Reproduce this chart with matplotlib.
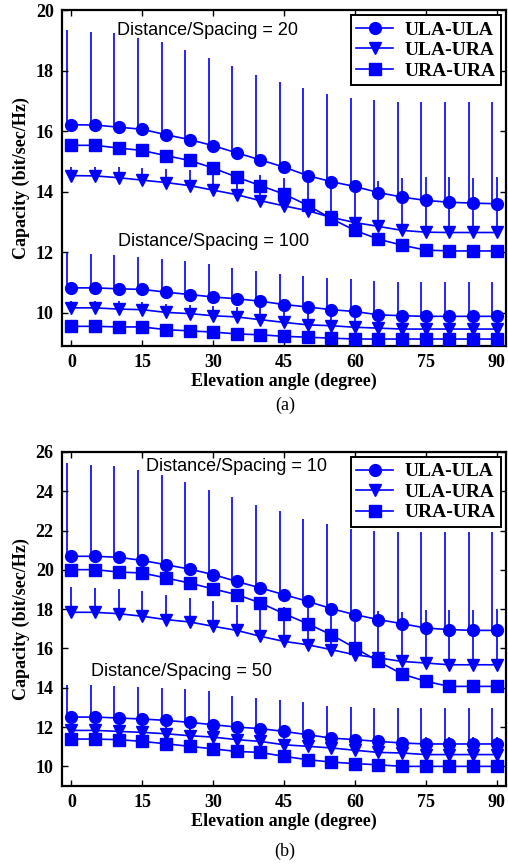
import matplotlib
matplotlib.use("Agg")
import matplotlib.pyplot as plt
from matplotlib.lines import Line2D

# elevation angles (degree)
angles = [0, 5, 10, 15, 20, 25, 30, 35, 40, 45, 50, 55, 60, 65, 70, 75, 80, 85, 90]

# (a) distance/spacing = 20
ula_ula_20 = [16.21, 16.20, 16.13, 16.06, 15.88, 15.72, 15.52, 15.28, 15.05, 14.81,
              14.53, 14.33, 14.17, 13.97, 13.82, 13.71, 13.65, 13.62, 13.60]
ula_ula_20_top = [19.35, 19.29, 19.24, 19.07, 18.93, 18.68, 18.43, 18.15, 17.86, 17.63,
                  17.43, 17.24, 17.11, 17.02, 16.97, 16.97, 16.97, 16.97, 16.97]
ula_ura_20 = [14.53, 14.52, 14.46, 14.38, 14.30, 14.20, 14.05, 13.90, 13.70, 13.53,
              13.37, 13.15, 12.98, 12.85, 12.72, 12.66, 12.65, 12.65, 12.65]
ula_ura_20_top = [14.82, 14.82, 14.80, 14.78, 14.75, 14.72, 14.70, 14.65, 14.55, 14.45,
                  14.35, 14.30, 14.30, 14.36, 14.44, 14.50, 14.50, 14.45, 14.50]
ura_ura_20 = [15.53, 15.53, 15.44, 15.36, 15.19, 15.03, 14.78, 14.48, 14.20, 13.92,
              13.55, 13.11, 12.72, 12.43, 12.23, 12.07, 12.04, 12.04, 12.04]

# (a) distance/spacing = 100
ula_ula_100 = [10.82, 10.82, 10.79, 10.77, 10.68, 10.60, 10.52, 10.46, 10.38, 10.27,
               10.19, 10.10, 10.04, 9.93, 9.90, 9.88, 9.88, 9.88, 9.88]
ula_ula_100_top = [11.98, 11.93, 11.90, 11.85, 11.79, 11.71, 11.60, 11.49, 11.38, 11.27,
                   11.21, 11.14, 11.10, 11.05, 11.01, 11.01, 11.00, 11.00, 11.00]
ula_ura_100 = [10.16, 10.16, 10.12, 10.10, 10.01, 9.97, 9.90, 9.86, 9.77, 9.68,
               9.60, 9.57, 9.52, 9.49, 9.46, 9.46, 9.46, 9.46, 9.46]
ula_ura_100_top = [10.40, 10.40, 10.38, 10.36, 10.30, 10.27, 10.22, 10.20, 10.15, 10.10,
                   10.05, 10.02, 10.00, 9.98, 9.96, 9.96, 9.96, 9.96, 9.96]
ura_ura_100 = [9.55, 9.55, 9.53, 9.53, 9.44, 9.40, 9.36, 9.30, 9.27, 9.22,
               9.19, 9.16, 9.13, 9.13, 9.13, 9.13, 9.13, 9.13, 9.13]

# (b) distance/spacing = 10
ula_ula_10 = [20.69, 20.69, 20.64, 20.48, 20.26, 20.04, 19.76, 19.41, 19.08, 18.74,
              18.40, 18.03, 17.72, 17.47, 17.26, 17.04, 16.96, 16.92, 16.92]
ula_ula_10_top = [25.44, 25.35, 25.27, 25.06, 24.84, 24.45, 24.08, 23.69, 23.32, 22.98,
                  22.60, 22.35, 22.08, 21.99, 21.93, 21.93, 21.93, 21.93, 21.93]
ula_ura_10 = [17.84, 17.84, 17.77, 17.64, 17.47, 17.35, 17.13, 16.92, 16.62, 16.36,
              16.19, 15.94, 15.68, 15.52, 15.34, 15.26, 15.17, 15.17, 15.17]
ula_ura_10_top = [19.13, 19.08, 19.03, 18.91, 18.74, 18.57, 18.40, 18.23, 18.15, 18.10,
                  18.05, 18.00, 17.95, 17.90, 17.86, 17.97, 17.97, 17.97, 17.99]
ura_ura_10 = [20.01, 20.01, 19.89, 19.84, 19.59, 19.33, 19.03, 18.74, 18.32, 17.77,
              17.26, 16.70, 16.03, 15.34, 14.70, 14.33, 14.07, 14.07, 14.07]

# (b) distance/spacing = 50
ula_ula_50 = [12.51, 12.51, 12.46, 12.41, 12.34, 12.24, 12.12, 12.00, 11.92, 11.78,
              11.61, 11.44, 11.36, 11.27, 11.19, 11.14, 11.14, 11.14, 11.14]
ula_ula_50_top = [14.16, 14.16, 14.11, 14.04, 13.99, 13.94, 13.82, 13.60, 13.48, 13.36,
                  13.26, 13.09, 13.02, 12.97, 12.97, 12.97, 12.97, 12.97, 12.97]
ula_ura_50 = [11.83, 11.83, 11.78, 11.73, 11.66, 11.56, 11.49, 11.36, 11.27, 11.10,
              11.02, 10.94, 10.82, 10.71, 10.68, 10.60, 10.60, 10.60, 10.60]
ula_ura_50_top = [12.25, 12.25, 12.22, 12.20, 12.15, 12.10, 12.05, 11.95, 11.90, 11.80,
                  11.75, 11.70, 11.62, 11.55, 11.50, 11.48, 11.48, 11.48, 11.48]
ura_ura_50 = [11.39, 11.39, 11.36, 11.27, 11.15, 11.02, 10.89, 10.76, 10.71, 10.51,
              10.34, 10.22, 10.14, 10.08, 10.00, 10.00, 10.00, 10.00, 10.00]

BLUE = "#0000ff"
SERIF = "Liberation Serif"
SANS = "Liberation Sans"
MS = 8.5
LW = 1.2
OFFSET = 0.9  # ULA-ULA spread bars sit a little left of the markers


def spread(ax, x, mean, top, shift=0.0):
    xs = [a - shift for a in x]
    err = [[0] * len(mean), [t - m for t, m in zip(top, mean)]]
    ax.errorbar(xs, mean, yerr=err, fmt="none", ecolor=BLUE, elinewidth=LW,
                capsize=0, zorder=1)


def group(ax, ula_ula, ula_ula_top, ula_ura, ula_ura_top, ura_ura):
    spread(ax, angles, ula_ula, ula_ula_top, shift=OFFSET)
    spread(ax, angles, ula_ura, ula_ura_top)
    kw = dict(color=BLUE, lw=LW, ms=MS, zorder=3)
    ax.plot(angles, ula_ula, marker="o", **kw)
    ax.plot(angles, ula_ura, marker="v", **kw)
    ax.plot(angles, ura_ura, marker="s", **kw)


def style(ax, ylim, yticks):
    ax.set_xlim(-2, 92)
    ax.set_ylim(*ylim)
    ax.set_xticks([0, 15, 30, 45, 60, 75, 90])
    ax.set_yticks(yticks)
    ax.tick_params(direction="in", top=True, right=True, length=4, width=1,
                   pad=6, labelsize=13)
    for lab in ax.get_xticklabels() + ax.get_yticklabels():
        lab.set_family(SERIF)
        lab.set_fontweight("bold")
    for sp in ax.spines.values():
        sp.set_linewidth(1.6)
    ax.set_xlabel("Elevation angle (degree)", family=SERIF, fontweight="bold",
                  fontsize=13, labelpad=1)
    ax.set_ylabel("Capacity (bit/sec/Hz)", family=SERIF, fontweight="bold",
                  fontsize=13, labelpad=4)
    handles = [Line2D([], [], color=BLUE, lw=LW, marker=m, ms=MS) for m in "ovs"]
    leg = ax.legend(handles, ["ULA-ULA", "ULA-URA", "URA-URA"], loc="upper right",
                    bbox_to_anchor=(0.989, 0.985), borderaxespad=0,
                    prop=dict(family=SERIF, weight="bold", size=14),
                    fancybox=False, edgecolor="black", framealpha=1,
                    handlelength=1.9, handletextpad=0.55, labelspacing=0.15,
                    borderpad=0.3)
    leg.get_frame().set_linewidth(1.4)


fig = plt.figure(figsize=(5.08, 8.65), dpi=100)
ax_a = fig.add_axes([0.122, 0.600, 0.874, 0.3884])
ax_b = fig.add_axes([0.122, 0.0913, 0.874, 0.3862])

group(ax_a, ula_ula_20, ula_ula_20_top, ula_ura_20, ula_ura_20_top, ura_ura_20)
group(ax_a, ula_ula_100, ula_ula_100_top, ula_ura_100, ula_ura_100_top, ura_ura_100)
style(ax_a, (8.9, 20), [10, 12, 14, 16, 18, 20])
ax_a.text(9.6, 19.34, "Distance/Spacing = 20", family=SANS, fontsize=13, va="center")
ax_a.text(9.9, 12.36, "Distance/Spacing = 100", family=SANS, fontsize=13, va="center")

group(ax_b, ula_ula_10, ula_ula_10_top, ula_ura_10, ula_ura_10_top, ura_ura_10)
group(ax_b, ula_ula_50, ula_ula_50_top, ula_ura_50, ula_ura_50_top, ura_ura_50)
style(ax_b, (9, 26), [10, 12, 14, 16, 18, 20, 22, 24, 26])
ax_b.text(15.8, 25.25, "Distance/Spacing = 10", family=SANS, fontsize=13, va="center")
ax_b.text(4.2, 14.82, "Distance/Spacing = 50", family=SANS, fontsize=13, va="center")

fig.text(285 / 508, 1 - 405 / 865, "(a)", family=SERIF, fontsize=13,
         ha="center", va="center")
fig.text(285 / 508, 1 - 851 / 865, "(b)", family=SERIF, fontsize=13,
         ha="center", va="center")

fig.savefig("out.png", dpi=100)
